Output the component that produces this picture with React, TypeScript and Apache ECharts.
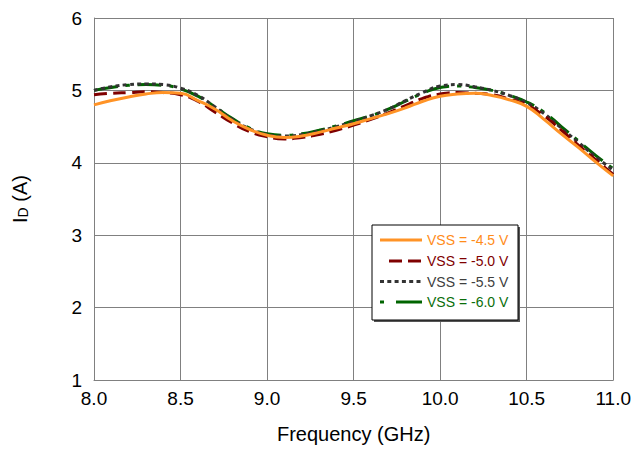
import React, { useEffect, useRef } from "react";
import * as echarts from "echarts";

const freqs = [8.0, 8.1, 8.2, 8.3, 8.4, 8.5, 8.6, 8.7, 8.8, 8.9, 9.0, 9.1, 9.2, 9.3, 9.4, 9.5, 9.6, 9.7, 9.8, 9.9, 10.0, 10.1, 10.2, 10.3, 10.4, 10.5, 10.6, 10.7, 10.8, 10.9, 11.0];

const vss45 = [4.80, 4.86, 4.91, 4.95, 4.97, 4.96, 4.86, 4.74, 4.58, 4.46, 4.38, 4.35, 4.37, 4.42, 4.48, 4.54, 4.61, 4.68, 4.76, 4.85, 4.92, 4.95, 4.96, 4.93, 4.87, 4.78, 4.60, 4.40, 4.21, 4.01, 3.82];
const vss50 = [4.94, 4.96, 4.97, 4.98, 4.97, 4.94, 4.85, 4.70, 4.55, 4.43, 4.36, 4.33, 4.35, 4.39, 4.45, 4.52, 4.60, 4.69, 4.79, 4.89, 4.95, 4.97, 4.96, 4.94, 4.88, 4.80, 4.65, 4.45, 4.24, 4.04, 3.84];
const vss55 = [5.00, 5.05, 5.08, 5.09, 5.08, 5.03, 4.93, 4.77, 4.60, 4.47, 4.39, 4.37, 4.39, 4.44, 4.50, 4.57, 4.65, 4.74, 4.86, 4.97, 5.06, 5.08, 5.05, 5.00, 4.93, 4.83, 4.68, 4.48, 4.28, 4.08, 3.90];
const vss60 = [5.00, 5.04, 5.07, 5.08, 5.07, 5.02, 4.92, 4.77, 4.61, 4.48, 4.40, 4.38, 4.40, 4.45, 4.51, 4.58, 4.65, 4.74, 4.85, 4.96, 5.04, 5.06, 5.04, 5.00, 4.93, 4.84, 4.70, 4.50, 4.30, 4.10, 3.92];

const seriesNames = ["VSS = -4.5 V", "VSS = -5.0 V", "VSS = -5.5 V", "VSS = -6.0 V"];
const seriesColors = ["#FF9326", "#7F0000", "#333333", "#006400"];
const textColors = ["#FF8C1A", "#7F0000", "#404040", "#0A6E0A"];

export default function App() {
  const ref = useRef<HTMLDivElement>(null);
  useEffect(() => {
    if (!ref.current) return;
    const chart = echarts.init(ref.current, null, { renderer: "svg" });
    const datasets = [vss45, vss50, vss55, vss60];
    const dashes: any[] = ["solid", [13, 6], [4, 3.3], [24, 8, 4, 8]];
    const font = "'Liberation Sans', Arial, sans-serif";

    // legend drawn with graphic elements
    const lx = 372, ly = 225, lw = 146, lh = 95;
    const rows = [240, 261, 281.5, 302];
    const legendEls: any[] = [
      { type: "rect", shape: { x: lx + 2, y: ly + 2, width: lw, height: lh }, style: { fill: "#555" }, z: 100 },
      { type: "rect", shape: { x: lx, y: ly, width: lw, height: lh }, style: { fill: "#fff", stroke: "#000", lineWidth: 1 }, z: 101 },
    ];
    const sampleSegs: number[][][] = [
      [[380, 422]],
      [[389, 402], [408, 421]],
      [[380, 422]],
      [[380, 384], [396, 422]],
    ];
    rows.forEach((y, i) => {
      sampleSegs[i].forEach(([x1, x2]) => {
        legendEls.push({
          type: "line",
          shape: { x1, y1: y, x2, y2: y },
          style: {
            stroke: seriesColors[i],
            lineWidth: 3,
            lineDash: i === 2 ? [4, 3.3] : null,
          },
          z: 102,
        });
      });
      legendEls.push({
        type: "text",
        x: 427,
        y: y,
        style: {
          text: seriesNames[i],
          fill: textColors[i],
          font: `14px ${font}`,
          textVerticalAlign: "middle",
          verticalAlign: "middle",
          align: "left",
        },
        z: 102,
      });
    });

    chart.setOption({
      animation: false,
      backgroundColor: "#ffffff",
      textStyle: { fontFamily: font },
      grid: { left: 94, right: 20, top: 18, bottom: 69, containLabel: false },
      xAxis: {
        type: "value",
        min: 8,
        max: 11,
        interval: 0.5,
        name: "Frequency (GHz)",
        nameLocation: "middle",
        nameGap: 44,
        nameTextStyle: { fontSize: 20, color: "#000", fontFamily: font },
        axisLine: { show: true, lineStyle: { color: "#808080", width: 1 } },
        axisTick: { show: false },
        axisLabel: {
          fontSize: 19,
          color: "#000",
          margin: 9,
          fontFamily: font,
          formatter: (v: number) => v.toFixed(1),
        },
        splitLine: { show: true, lineStyle: { color: "#808080", width: 1 } },
      },
      yAxis: {
        type: "value",
        min: 1,
        max: 6,
        interval: 1,
        name: "{a|I}{b|D}{a| (A)}",
        nameLocation: "middle",
        nameGap: 64,
        nameRotate: 90,
        nameTextStyle: {
          rich: {
            a: { fontSize: 20, color: "#000", fontFamily: font },
            b: { fontSize: 14, color: "#000", fontFamily: font, verticalAlign: "bottom", padding: [7, 0, 0, 0] },
          },
        },
        axisLine: { show: true, lineStyle: { color: "#808080", width: 1 } },
        axisTick: { show: false },
        axisLabel: { fontSize: 19, color: "#000", margin: 12, fontFamily: font },
        splitLine: { show: true, lineStyle: { color: "#808080", width: 1 } },
      },
      graphic: legendEls,
      series: seriesNames.map((n, i) => ({
        name: n,
        type: "line",
        smooth: true,
        showSymbol: false,
        symbol: "none",
        data: freqs.map((f, j) => [f, datasets[i][j]]),
        lineStyle: { color: seriesColors[i], width: 3, type: dashes[i] },
        itemStyle: { color: seriesColors[i] },
        z: 10 - i,
      })),
    });
    return () => chart.dispose();
  }, []);
  return <div ref={ref} style={{ position: "fixed", left: 0, top: 0, width: 634, height: 449 }} />;
}
